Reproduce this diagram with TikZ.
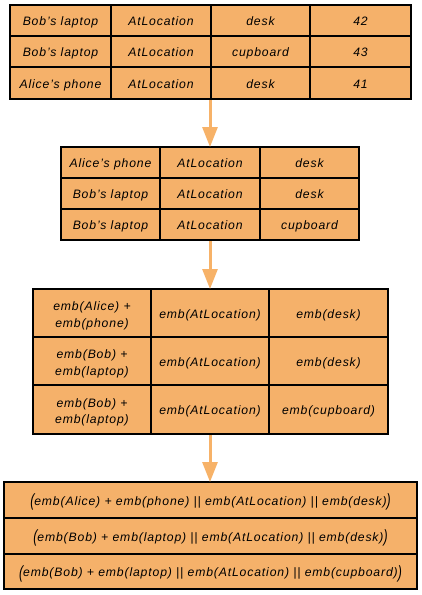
\documentclass[tikz,border=0pt]{standalone}
\usepackage{fontspec}
\setmainfont{Liberation Sans}[LetterSpace=7]
\usetikzlibrary{arrows.meta}
\definecolor{cellfill}{RGB}{245,177,106}
\definecolor{arrowor}{RGB}{247,178,104}
\newcommand{\bp}[1]{\raisebox{-1.5pt}{\scalebox{1}[1.45]{#1}}}
\newcommand{\lift}{\rule{0pt}{15pt}}
\tikzset{
  cell/.style={draw=black, line width=2pt, fill=cellfill, anchor=north west,
    inner sep=0pt, outer sep=0pt, align=center,
    font=\fontsize{12.2}{16.5}\selectfont\itshape},
  one/.style={text height=10.5pt, text depth=0.5pt},
  flow/.style={draw=arrowor, line width=3pt, -{Triangle[width=15pt,length=20pt]}, shorten <=1pt}
}
\begin{document}
\begin{tikzpicture}[x=1pt,y=-1pt]
\useasboundingbox (0,0) rectangle (421,595);
% table 1
\node[cell, one, minimum width=101pt, minimum height=31pt] (a11) at (10,5) {Bob's laptop};
\node[cell, one, minimum width=100pt, minimum height=31pt] (a12) at (111,5) {AtLocation};
\node[cell, one, minimum width=99pt, minimum height=31pt] (a13) at (211,5) {desk};
\node[cell, one, minimum width=101pt, minimum height=31pt] (a14) at (310,5) {42};
\node[cell, one, minimum width=101pt, minimum height=31pt] (a21) at (10,36) {Bob's laptop};
\node[cell, one, minimum width=100pt, minimum height=31pt] (a22) at (111,36) {AtLocation};
\node[cell, one, minimum width=99pt, minimum height=31pt] (a23) at (211,36) {cupboard};
\node[cell, one, minimum width=101pt, minimum height=31pt] (a24) at (310,36) {43};
\node[cell, one, minimum width=101pt, minimum height=32pt] (a31) at (10,67) {Alice's phone};
\node[cell, one, minimum width=100pt, minimum height=32pt] (a32) at (111,67) {AtLocation};
\node[cell, one, minimum width=99pt, minimum height=32pt] (a33) at (211,67) {desk};
\node[cell, one, minimum width=101pt, minimum height=32pt] (a34) at (310,67) {41};
% table 2
\node[cell, one, minimum width=99pt, minimum height=31pt] (b11) at (61,147) {Alice's phone};
\node[cell, one, minimum width=100pt, minimum height=31pt] (b12) at (160,147) {AtLocation};
\node[cell, one, minimum width=99pt, minimum height=31pt] (b13) at (260,147) {desk};
\node[cell, one, minimum width=99pt, minimum height=31pt] (b21) at (61,178) {Bob's laptop};
\node[cell, one, minimum width=100pt, minimum height=31pt] (b22) at (160,178) {AtLocation};
\node[cell, one, minimum width=99pt, minimum height=31pt] (b23) at (260,178) {desk};
\node[cell, one, minimum width=99pt, minimum height=31pt] (b31) at (61,209) {Bob's laptop};
\node[cell, one, minimum width=100pt, minimum height=31pt] (b32) at (160,209) {AtLocation};
\node[cell, one, minimum width=99pt, minimum height=31pt] (b33) at (260,209) {cupboard};
% table 3
\node[cell, minimum width=118pt, minimum height=48pt] (c11) at (33,289) {\lift emb(Alice) +\\emb(phone)};
\node[cell, one, minimum width=118pt, minimum height=48pt] (c12) at (151,289) {emb(AtLocation)};
\node[cell, one, minimum width=119pt, minimum height=48pt] (c13) at (269,289) {emb(desk)};
\node[cell, minimum width=118pt, minimum height=48pt] (c21) at (33,337) {\lift emb(Bob) +\\emb(laptop)};
\node[cell, one, minimum width=118pt, minimum height=48pt] (c22) at (151,337) {emb(AtLocation)};
\node[cell, one, minimum width=119pt, minimum height=48pt] (c23) at (269,337) {emb(desk)};
\node[cell, minimum width=118pt, minimum height=49pt] (c31) at (33,385) {\lift emb(Bob) +\\emb(laptop)};
\node[cell, one, minimum width=118pt, minimum height=49pt] (c32) at (151,385) {emb(AtLocation)};
\node[cell, one, minimum width=119pt, minimum height=49pt] (c33) at (269,385) {emb(cupboard)};
% table 4
\node[cell, one, minimum width=413pt, minimum height=36pt] (d1) at (4,482) {\bp{(}emb(Alice) + emb(phone) || emb(AtLocation) || emb(desk)\bp{)}};
\node[cell, one, minimum width=413pt, minimum height=36pt] (d2) at (4,518) {\bp{(}emb(Bob) + emb(laptop) || emb(AtLocation) || emb(desk)\bp{)}};
\node[cell, one, minimum width=413pt, minimum height=35pt] (d3) at (4,554) {\bp{(}emb(Bob) + emb(laptop) || emb(AtLocation) || emb(cupboard)\bp{)}};
% arrows
\draw[flow] ([xshift=-1pt]a33.south west) -- ([xshift=-1pt]a33.south west |- b12.north);
\draw[flow] ([xshift=-1pt]a33.south west |- b32.south) -- ([xshift=-1pt]a33.south west |- c12.north);
\draw[flow] ([xshift=-1pt]a33.south west |- c32.south) -- ([xshift=-1pt]a33.south west |- d1.north);
\end{tikzpicture}
\end{document}
